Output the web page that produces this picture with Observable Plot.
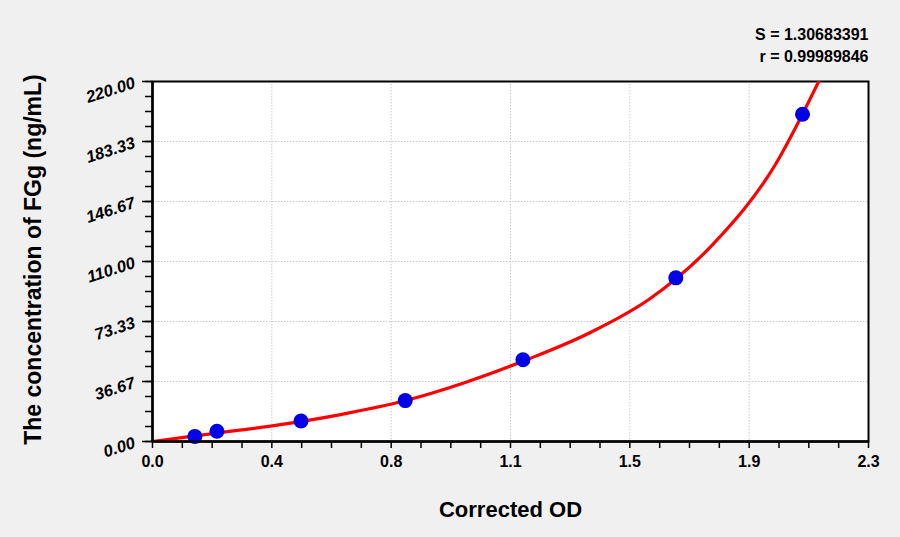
<!DOCTYPE html>
<html>
<head>
<meta charset="utf-8">
<script src="https://cdn.jsdelivr.net/npm/d3@7"></script>
<script src="https://cdn.jsdelivr.net/npm/@observablehq/plot@0.6"></script>
<style>
  html, body { margin: 0; padding: 0; background: #f0f0f0; }
  #chart svg { display: block; }
</style>
</head>
<body>
<div id="chart"></div>
<script>
// Standard points
const pointOD = [0.136, 0.207, 0.477, 0.812, 1.19, 1.681, 2.088];
const pointConc = [3.125, 6.25, 12.5, 25, 50, 100, 200];

// Fitted curve
const curveOD = [0, 0.2, 0.4, 0.6, 0.8, 1.0, 1.2, 1.4, 1.6, 1.8, 2.0, 2.14];
const curveConc = [0, 5.0, 10.0, 16.3, 24.4, 35.8, 49.8, 66.0, 87.5, 120.5, 169, 220];

// Axis ticks
const xTickValues = [0, 0.38333, 0.76667, 1.15, 1.53333, 1.91667, 2.3];
const xTickLabels = ["0.0", "0.4", "0.8", "1.1", "1.5", "1.9", "2.3"];
const yTickValues = [0, 36.667, 73.333, 110, 146.667, 183.333, 220];
const yTickLabels = ["0.00", "36.67", "73.33", "110.00", "146.67", "183.33", "220.00"];

const statLines = ["S = 1.30683391", "r = 0.99989846"];
const xTitle = "Corrected OD";
const yTitle = "The concentration of FGg (ng/mL)";

const points = pointOD.map((x, i) => ({x, y: pointConc[i]}));
const curve = curveOD.map((x, i) => ({x, y: curveConc[i]}));
const xTicks = xTickValues.map((v, i) => ({v, label: xTickLabels[i]}));
const yTicks = yTickValues.map((v, i) => ({v, label: yTickLabels[i]}));
const xMinor = d3.range(25).map(i => i * 2.3 / 24);
const yMinor = d3.range(25).map(i => i * 220 / 24);

const font = "'Liberation Sans', Arial, Helvetica, sans-serif";

const chart = Plot.plot({
  width: 900,
  height: 537,
  marginLeft: 152,
  marginRight: 32,
  marginTop: 81,
  marginBottom: 96,
  style: {background: "#f0f0f0", fontFamily: font},
  x: {domain: [0, 2.3], axis: null},
  y: {domain: [0, 220], axis: null},
  marks: [
    Plot.frame({fill: "white", stroke: null}),
    Plot.gridX(xTickValues, {stroke: "#c8c8c8", strokeOpacity: 1, strokeDasharray: "1.5,1.5"}),
    Plot.gridY(yTickValues, {stroke: "#c8c8c8", strokeOpacity: 1, strokeDasharray: "1.5,1.5"}),
    Plot.axisX(xMinor, {tickSize: 7, tickFormat: () => "", stroke: "black", strokeWidth: 1.5}),
    Plot.axisY(yMinor, {tickSize: 7, tickFormat: () => "", stroke: "black", strokeWidth: 1.5}),
    Plot.axisY(yTickValues, {tickSize: 10, tickFormat: () => "", stroke: "black", strokeWidth: 1.5}),
    Plot.frame({stroke: "black", strokeWidth: 2}),
    Plot.line(curve, {x: "x", y: "y", stroke: "#ff0000", strokeWidth: 3.2, curve: "monotone-x", clip: true}),
    Plot.dot(points, {x: "x", y: "y", r: 7.5, fill: "#0000e6", stroke: null}),
    Plot.ruleX([0], {stroke: "black", strokeWidth: 2.5}),
    Plot.ruleY([0], {stroke: "black", strokeWidth: 2.5}),
    // x tick labels
    Plot.text(xTicks, {x: "v", text: "label", frameAnchor: "bottom", dy: 25,
      fontSize: 16, fontWeight: "bold", fill: "black"}),
    // y tick labels (rotated, italic)
    Plot.text(yTicks, {y: "v", text: "label", frameAnchor: "left", dx: -18, dy: 1,
      textAnchor: "end", rotate: -18, fontSize: 16.5, fontWeight: "bold", fontStyle: "italic", fill: "black"}),
    // axis titles
    Plot.text([xTitle], {frameAnchor: "bottom", dy: 75, dx: 0, textAnchor: "middle", fontSize: 22, fontWeight: "bold", fill: "black"}),
    Plot.text([yTitle], {frameAnchor: "left", dx: -119, dy: -2, rotate: -90, textAnchor: "middle", fontSize: 23, fontWeight: "bold", fill: "black"}),
    // statistics
    Plot.text([statLines[0]], {frameAnchor: "top-right", dy: -53, textAnchor: "end", fontSize: 16, fontWeight: "bold", fill: "black"}),
    Plot.text([statLines[1]], {frameAnchor: "top-right", dy: -31, textAnchor: "end", fontSize: 16, fontWeight: "bold", fill: "black"})
  ]
});

document.getElementById("chart").appendChild(chart);
</script>
</body>
</html>
